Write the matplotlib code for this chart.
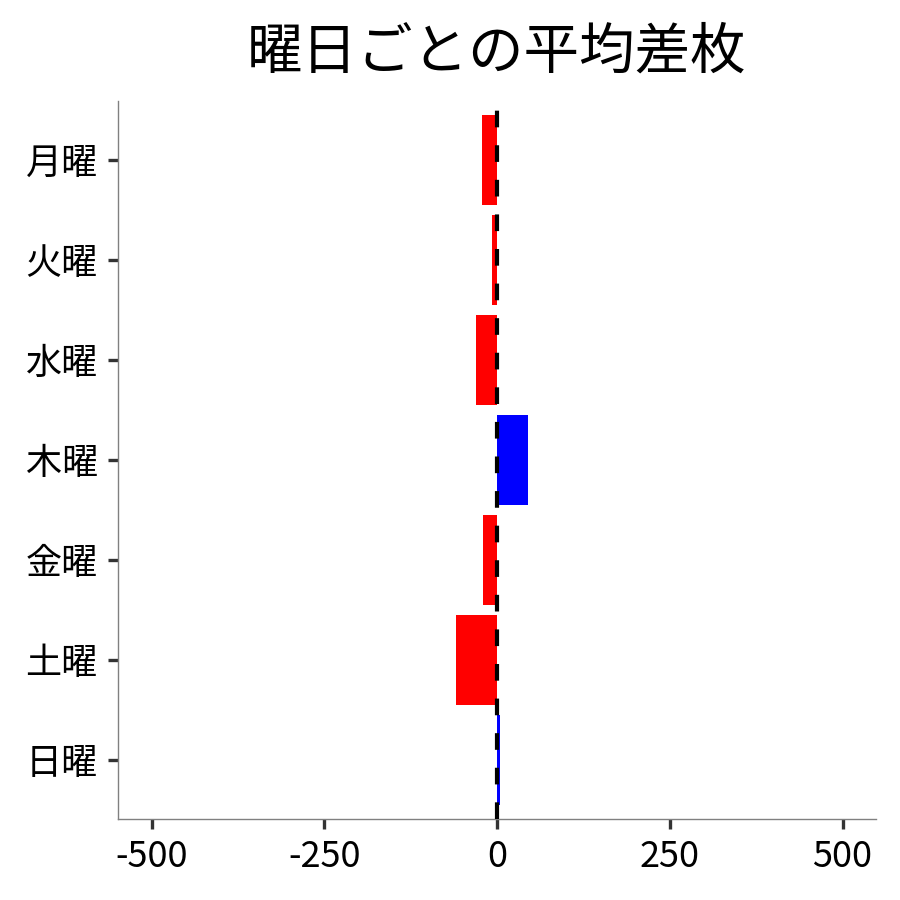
import matplotlib
matplotlib.use("Agg")
import matplotlib.pyplot as plt

plt.rcParams['font.family'] = ['Noto Sans CJK JP', 'DejaVu Sans']
plt.rcParams['axes.unicode_minus'] = False

# data
days = ["月曜", "火曜", "水曜", "木曜", "金曜", "土曜", "日曜"]
diff = [-22, -8, -31, 45, -21, -60, 4]
xticks = [-500, -250, 0, 250, 500]

colors = ["blue" if v > 0 else "red" for v in diff]

fig = plt.figure(figsize=(9, 9), dpi=100)
ax = fig.add_axes([0.131, 0.0897, 0.842, 0.7983])

pos = list(range(len(days)))
ax.barh(pos, diff, height=0.9, color=colors, zorder=2)
ax.axvline(0, color="black", lw=3, linestyle=(0, (4, 4.3)), zorder=3)

ax.set_yticks(pos)
ax.set_yticklabels(days)
ax.set_ylim(len(days) - 1 + 0.593, -0.593)
ax.set_xticks(xticks)
ax.set_xlim(-549, 548)

ax.spines["top"].set_visible(False)
ax.spines["right"].set_visible(False)
for s in ["left", "bottom"]:
    ax.spines[s].set_color("#808080")
    ax.spines[s].set_linewidth(1.0)

ax.tick_params(axis="both", labelsize=26, length=7.5, width=2.4, color="#333333", pad=7)
ax.set_title("曜日ごとの平均差枚", fontsize=40, pad=23)

fig.savefig("out.png", dpi=100)
